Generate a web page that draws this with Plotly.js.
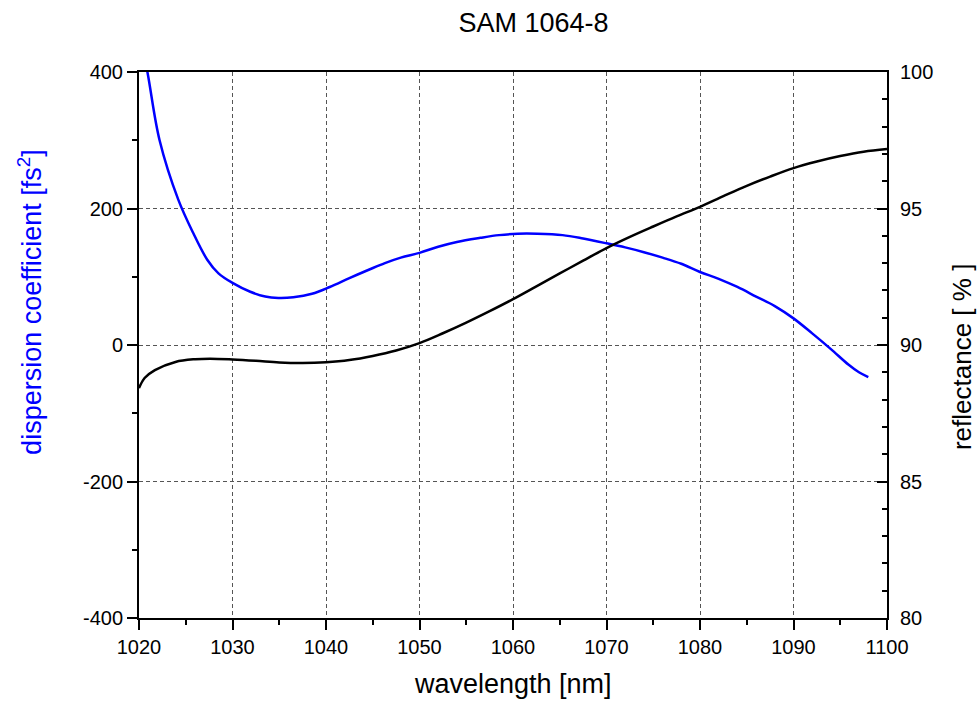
<!DOCTYPE html>
<html>
<head>
<meta charset="utf-8">
<script src="https://cdn.plot.ly/plotly-3.0.1.min.js"></script>
<style>html,body{margin:0;padding:0;background:#fff;}#chart{width:977px;height:702px;}</style>
</head>
<body>
<div id="chart"></div>
<script>
const dispWavelength = [1020, 1020.9, 1022.2, 1024.2, 1025.8, 1027.3, 1028.5, 1030, 1031.9, 1033.5, 1034.9, 1036.5, 1038.5, 1040.4, 1042.5, 1044.7, 1046.3, 1048, 1050, 1052, 1054, 1056.5, 1058.5, 1060.5, 1062.6, 1065.3, 1067.5, 1070, 1072, 1074, 1076, 1078, 1080, 1082, 1084, 1086, 1088, 1090, 1092, 1094, 1095.9, 1097, 1098];
const dispValues = [460, 400, 300, 213, 164, 125, 105, 91, 78, 71, 69, 70, 75, 85, 98, 111, 120, 128, 135, 144, 151, 157, 161, 163, 163, 161, 156, 149, 143, 136, 128, 119, 107, 97, 85, 71, 57, 39, 17, -6, -29, -40, -47];

const reflWavelength = [1020, 1020.6, 1021.7, 1023.9, 1026, 1027.6, 1030, 1032.5, 1035, 1037.5, 1040, 1042.5, 1045, 1047.5, 1050, 1052.5, 1055, 1057.5, 1060, 1062.5, 1065, 1067.5, 1070, 1072.5, 1075, 1077.5, 1080, 1082.5, 1085, 1087.5, 1090, 1092.5, 1095, 1097.5, 1100];
const reflValues = [88.42, 88.79, 89.08, 89.38, 89.48, 89.5, 89.47, 89.42, 89.36, 89.34, 89.37, 89.45, 89.6, 89.8, 90.07, 90.43, 90.82, 91.24, 91.68, 92.15, 92.62, 93.09, 93.55, 93.96, 94.34, 94.71, 95.06, 95.45, 95.83, 96.17, 96.48, 96.72, 96.92, 97.08, 97.18];

const xTicks = [1020, 1030, 1040, 1050, 1060, 1070, 1080, 1090, 1100];
const leftTicks = [-400, -200, 0, 200, 400];
const rightTicks = [80, 85, 90, 95, 100];

const FONT = 'Liberation Sans, Arial, sans-serif';

const traces = [
  {x: dispWavelength, y: dispValues, type: 'scatter', mode: 'lines', line: {color: '#0000ff', width: 2.5, shape: 'spline', smoothing: 1}, yaxis: 'y', hoverinfo: 'skip'},
  {x: reflWavelength, y: reflValues, type: 'scatter', mode: 'lines', line: {color: '#000000', width: 2.5, shape: 'spline', smoothing: 1}, yaxis: 'y2', hoverinfo: 'skip'}
];

const gridStyle = {showgrid: true, gridcolor: '#555', griddash: '4px,3px', gridwidth: 1};

const layout = {
  width: 977, height: 702,
  margin: {l: 139, r: 90, t: 72, b: 84},
  paper_bgcolor: '#fff', plot_bgcolor: '#fff',
  showlegend: false,
  font: {family: FONT, color: '#000'},
  title: {text: 'SAM 1064-8', font: {size: 27, family: FONT, color: '#000'}, x: 0.546, xanchor: 'center', y: 0.968, yanchor: 'middle'},
  xaxis: Object.assign({
    range: [1020, 1100], tickvals: xTicks, ticktext: xTicks.map(String),
    ticks: 'outside', ticklen: 10, tickwidth: 2, tickcolor: '#000',
    minor: {dtick: 5, tick0: 1020, ticks: 'outside', ticklen: 5, tickwidth: 2, tickcolor: '#000', showgrid: false},
    showline: true, linecolor: '#000', linewidth: 2, mirror: true,
    zeroline: false,
    tickfont: {size: 20, family: FONT, color: '#000'}
  }, gridStyle),
  yaxis: Object.assign({
    range: [-400, 400], tickvals: leftTicks, ticktext: leftTicks.map(String),
    ticks: 'outside', ticklen: 10, tickwidth: 2, tickcolor: '#000',
    minor: {dtick: 100, tick0: 0, ticks: 'outside', ticklen: 5, tickwidth: 2, tickcolor: '#000', showgrid: false},
    showline: true, linecolor: '#000', linewidth: 2,
    zeroline: false,
    tickfont: {size: 20, family: FONT, color: '#000'}
  }, gridStyle),
  yaxis2: {
    range: [80, 100], tickvals: rightTicks, ticktext: rightTicks.map(String),
    overlaying: 'y', side: 'right',
    ticks: 'inside', ticklen: 10, tickwidth: 2, tickcolor: '#000',
    minor: {dtick: 1, tick0: 80, ticks: 'inside', ticklen: 5, tickwidth: 2, tickcolor: '#000', showgrid: false},
    showline: true, linecolor: '#000', linewidth: 2,
    showgrid: false, zeroline: false,
    ticklabelstandoff: 7,
    tickfont: {size: 20, family: FONT, color: '#000'}
  },
  annotations: [
    {text: 'wavelength [nm]', xref: 'paper', yref: 'paper', x: 0.5, y: -0.152, xanchor: 'center', yanchor: 'bottom', showarrow: false, font: {size: 27, family: FONT, color: '#000'}},
    {text: 'dispersion coefficient [fs<sup>2</sup>]', xref: 'paper', yref: 'paper', x: -0.1457, y: 0.579, xanchor: 'center', yanchor: 'middle', textangle: -90, showarrow: false, font: {size: 27, family: FONT, color: '#0000ff'}},
    {text: 'reflectance [ % ]', xref: 'paper', yref: 'paper', x: 1.1003, y: 0.478, xanchor: 'center', yanchor: 'middle', textangle: -90, showarrow: false, font: {size: 26, family: FONT, color: '#000'}}
  ]
};

Plotly.newPlot('chart', traces, layout, {displayModeBar: false, staticPlot: true});
</script>
</body>
</html>
